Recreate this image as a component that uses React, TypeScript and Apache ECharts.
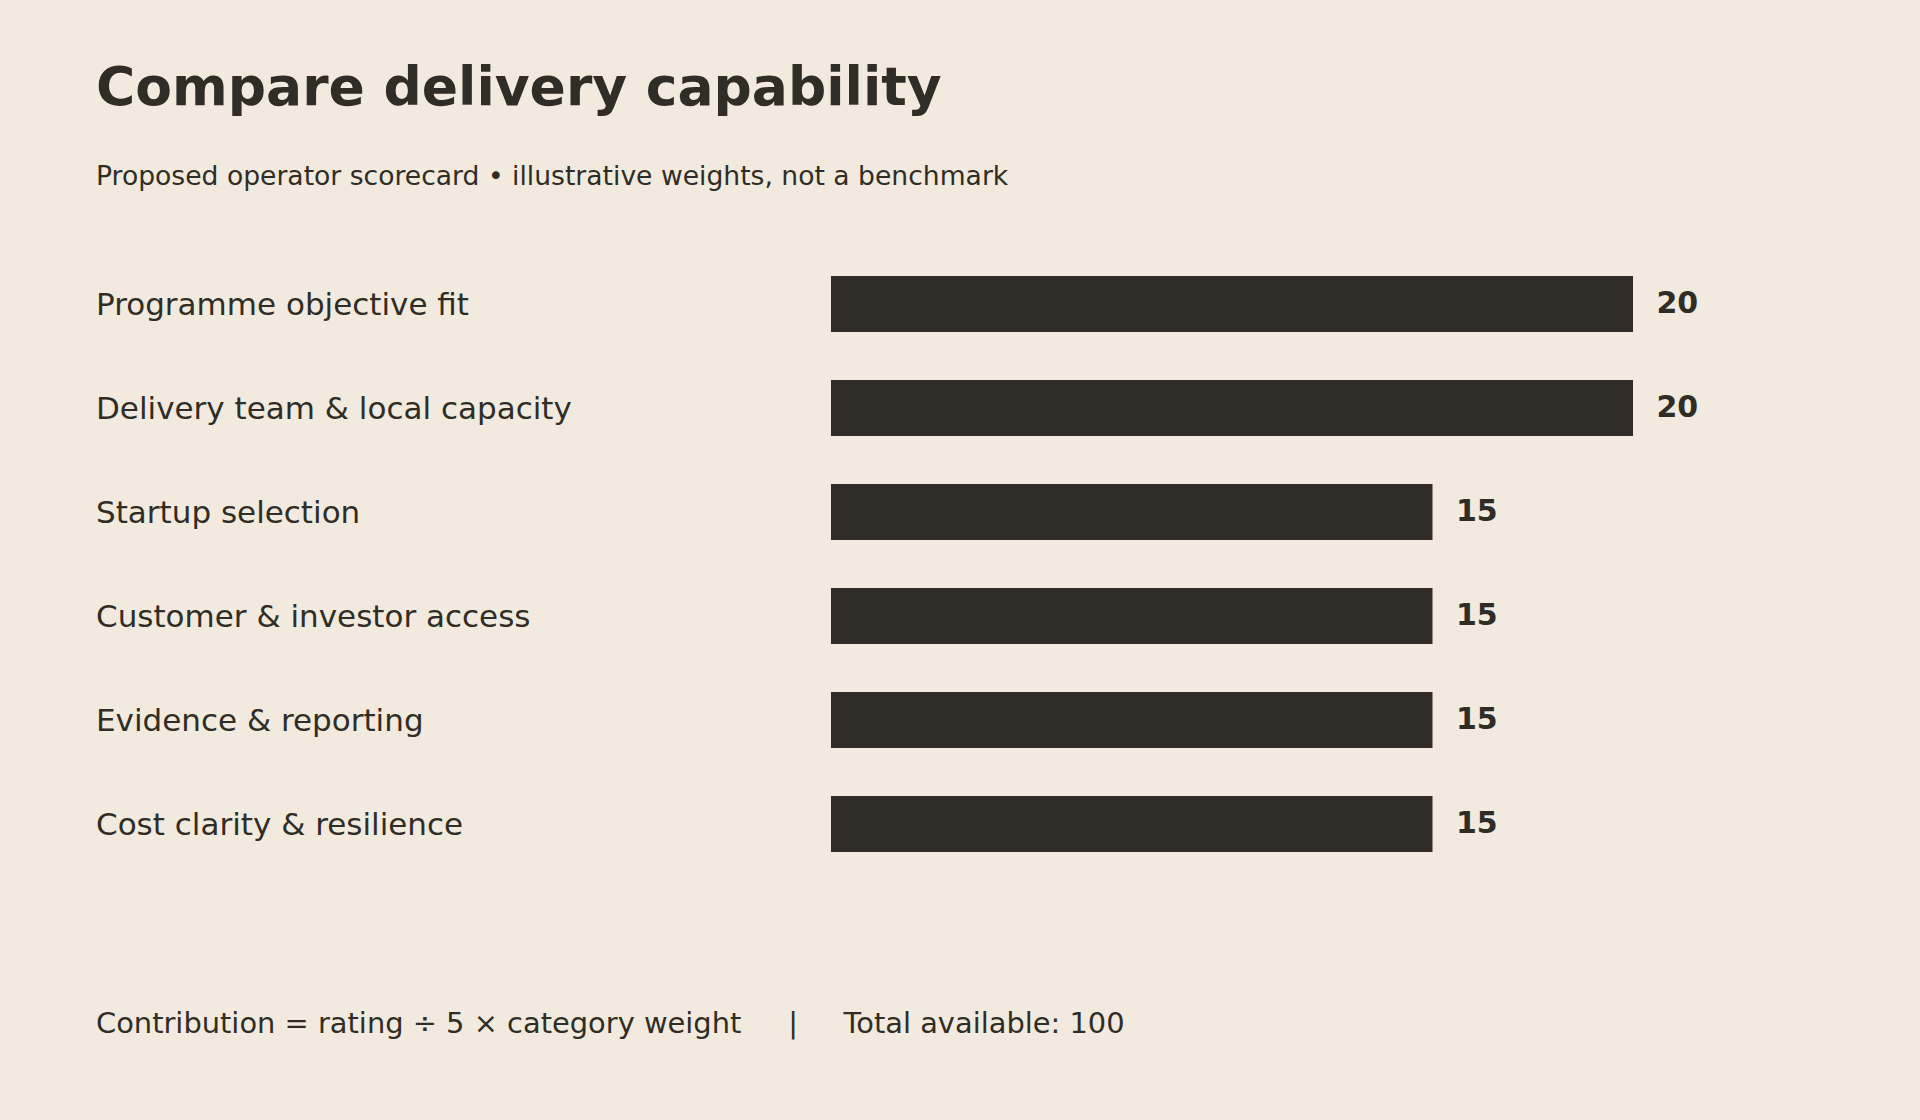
import React, { useEffect, useRef } from "react";
import * as echarts from "echarts";

const categories = [
  "Programme objective fit",
  "Delivery team & local capacity",
  "Startup selection",
  "Customer & investor access",
  "Evidence & reporting",
  "Cost clarity & resilience",
];
const weights = [20, 20, 15, 15, 15, 15];

const titleText = "Compare delivery capability";
const subtitleText = "Proposed operator scorecard • illustrative weights, not a benchmark";
const footerLeft = "Contribution = rating ÷ 5 × category weight";
const footerSep = "|";
const footerRight = "Total available: 100";

const BG = "#F2EADE";
const INK = "#302D26";
const FONT = "DejaVu Sans";

export default function App() {
  const ref = useRef<HTMLDivElement>(null);
  useEffect(() => {
    if (!ref.current) return;
    const chart = echarts.init(ref.current, undefined, { renderer: "svg" });
    chart.setOption({
      animation: false,
      backgroundColor: BG,
      grid: { left: 831, right: 86.5, top: 252, bottom: 244, containLabel: false },
      xAxis: {
        type: "value",
        min: 0,
        max: 25,
        show: false,
      },
      yAxis: {
        type: "category",
        inverse: true,
        data: categories,
        axisLine: { show: false },
        axisTick: { show: false },
        splitLine: { show: false },
        axisLabel: {
          align: "left",
          margin: 735,
          fontSize: 31,
          fontFamily: FONT,
          color: INK,
          padding: [0, 0, 10, 0],
        },
      },
      series: [
        {
          type: "bar",
          data: weights,
          barWidth: 56,
          itemStyle: { color: INK },
          label: {
            show: true,
            position: "right",
            distance: 23.5,
            offset: [0, -2],
            fontSize: 30,
            fontWeight: "bold",
            fontFamily: FONT,
            color: INK,
          },
        },
      ],
      graphic: [
        {
          type: "text",
          x: 96,
          y: 86,
          style: {
            text: titleText,
            fontSize: 53.5,
            fontWeight: "bold",
            fontFamily: FONT,
            fill: INK,
            verticalAlign: "middle",
          },
        },
        {
          type: "text",
          x: 96,
          y: 175,
          style: {
            text: subtitleText,
            fontSize: 26.6,
            fontFamily: FONT,
            fill: INK,
            verticalAlign: "middle",
          },
        },
        {
          type: "text",
          x: 96,
          y: 1022.7,
          style: {
            text: footerLeft,
            fontSize: 28.9,
            fontFamily: FONT,
            fill: INK,
            verticalAlign: "middle",
          },
        },
        {
          type: "text",
          x: 793,
          y: 1022.7,
          style: {
            text: footerSep,
            fontSize: 28.9,
            fontFamily: FONT,
            fill: INK,
            align: "center",
            verticalAlign: "middle",
          },
        },
        {
          type: "text",
          x: 843.5,
          y: 1022.7,
          style: {
            text: footerRight,
            fontSize: 28.9,
            fontFamily: FONT,
            fill: INK,
            verticalAlign: "middle",
          },
        },
      ],
    });
    return () => chart.dispose();
  }, []);
  return (
    <div
      ref={ref}
      style={{ position: "fixed", left: 0, top: 0, width: 1920, height: 1120 }}
    />
  );
}
